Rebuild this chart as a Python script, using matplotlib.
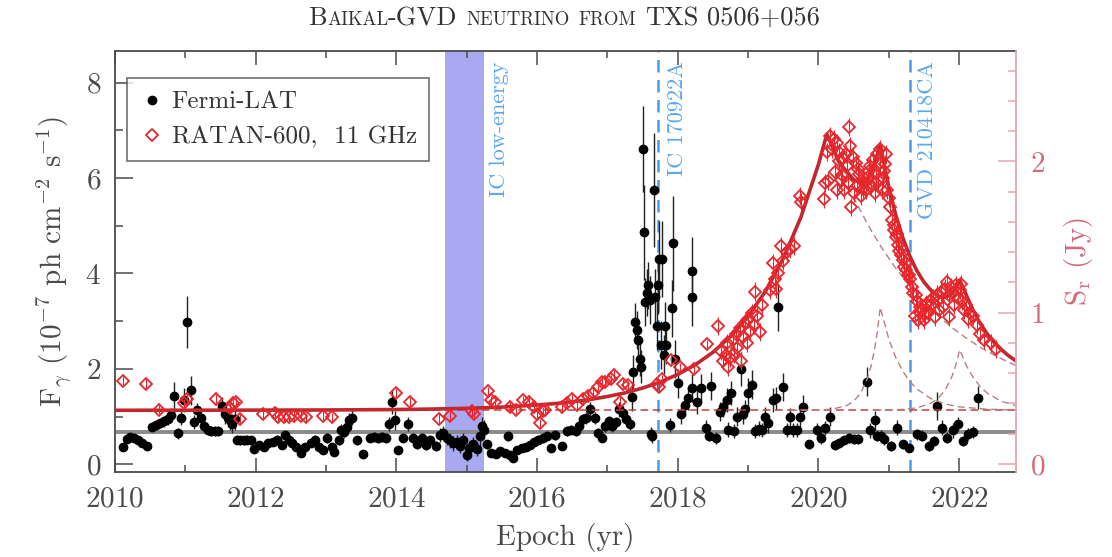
import matplotlib
matplotlib.use("Agg")
import matplotlib.pyplot as plt
from matplotlib.ticker import MultipleLocator
from matplotlib.lines import Line2D

plt.rcParams['font.family'] = 'serif'
plt.rcParams['font.serif'] = ['cmr10', 'DejaVu Serif']
plt.rcParams['mathtext.fontset'] = 'cm'
plt.rcParams['axes.formatter.use_mathtext'] = True

# Fermi-LAT gamma-ray flux (1e-7 ph cm^-2 s^-1)
fermi_t = [2010.11, 2010.17, 2010.22, 2010.27, 2010.33, 2010.39, 2010.45, 2010.52, 2010.58, 2010.64,
           2010.70, 2010.76, 2010.80, 2010.84, 2010.89, 2010.94, 2010.98, 2011.03, 2011.08, 2011.12,
           2011.17, 2011.22, 2011.27, 2011.32, 2011.37, 2011.42, 2011.47, 2011.52, 2011.56, 2011.60,
           2011.64, 2011.67, 2011.70, 2011.73, 2011.78, 2011.83, 2011.88, 2011.93, 2011.98, 2012.05,
           2012.12, 2012.18, 2012.24, 2012.30, 2012.37, 2012.42, 2012.47, 2012.52, 2012.57, 2012.64,
           2012.70, 2012.78, 2012.84, 2012.90, 2012.96, 2013.02, 2013.08, 2013.12, 2013.18, 2013.22,
           2013.26, 2013.30, 2013.33, 2013.37, 2013.44, 2013.53, 2013.62, 2013.68, 2013.74, 2013.80,
           2013.86, 2013.90, 2013.94, 2013.98, 2014.03, 2014.10, 2014.17, 2014.24, 2014.30, 2014.36,
           2014.42, 2014.48, 2014.56, 2014.62, 2014.67, 2014.72, 2014.76, 2014.81, 2014.86, 2014.90,
           2014.95, 2015.00, 2015.04, 2015.09, 2015.14, 2015.19, 2015.22, 2015.25, 2015.29, 2015.35,
           2015.42, 2015.48, 2015.55, 2015.59, 2015.62, 2015.66, 2015.72, 2015.78, 2015.84, 2015.90,
           2015.96, 2016.02, 2016.08, 2016.14, 2016.20, 2016.26, 2016.35, 2016.42, 2016.49, 2016.55,
           2016.60, 2016.65, 2016.70, 2016.75, 2016.82, 2016.87, 2016.92, 2016.97, 2017.02, 2017.07,
           2017.12, 2017.17, 2017.22, 2017.27, 2017.32, 2017.35, 2017.37, 2017.40, 2017.42, 2017.44,
           2017.46, 2017.48, 2017.51, 2017.52, 2017.54, 2017.56, 2017.58, 2017.60, 2017.62, 2017.64,
           2017.66, 2017.68, 2017.70, 2017.72, 2017.74, 2017.76, 2017.78, 2017.80, 2017.82, 2017.84,
           2017.89, 2017.92, 2017.93, 2017.96, 2018.00, 2018.05, 2018.10, 2018.15, 2018.20, 2018.21,
           2018.21, 2018.27, 2018.33, 2018.40, 2018.45, 2018.47, 2018.55, 2018.60, 2018.65, 2018.70,
           2018.72, 2018.76, 2018.80, 2018.85, 2018.90, 2018.93, 2018.96, 2019.00, 2019.05, 2019.10,
           2019.15, 2019.20, 2019.24, 2019.29, 2019.36, 2019.40, 2019.43, 2019.50, 2019.56, 2019.60,
           2019.64, 2019.70, 2019.74, 2019.78, 2019.86, 2019.98, 2020.04, 2020.10, 2020.16, 2020.23,
           2020.30, 2020.37, 2020.43, 2020.50, 2020.56, 2020.69, 2020.73, 2020.80, 2020.84, 2020.89,
           2020.94, 2021.03, 2021.12, 2021.20, 2021.29, 2021.40, 2021.48, 2021.57, 2021.64, 2021.69,
           2021.76, 2021.83, 2021.92, 2021.99, 2022.06, 2022.13, 2022.20, 2022.27]
fermi_f = [0.37, 0.54, 0.58, 0.55, 0.50, 0.44, 0.38, 0.79, 0.82, 0.86,
           0.90, 0.94, 1.03, 1.43, 0.65, 0.97, 1.34, 2.98, 1.55, 0.89,
           1.13, 0.97, 0.80, 0.71, 0.70, 0.70, 0.70, 1.22, 1.05, 0.98,
           0.92, 0.85, 0.96, 0.52, 0.50, 0.50, 0.52, 0.50, 0.33, 0.40,
           0.37, 0.44, 0.47, 0.52, 0.40, 0.61, 0.52, 0.45, 0.37, 0.24,
           0.37, 0.44, 0.51, 0.37, 0.30, 0.55, 0.36, 0.26, 0.51, 0.72,
           0.68, 0.78, 0.93, 0.98, 0.50, 0.21, 0.56, 0.58, 0.55, 0.57,
           0.55, 0.85, 1.30, 0.92, 0.30, 0.56, 0.85, 0.56, 0.42, 0.55,
           0.40, 0.52, 0.38, 0.62, 0.65, 0.55, 0.50, 0.44, 0.47, 0.38,
           0.50, 0.20, 0.34, 0.42, 0.32, 0.59, 0.80, 0.73, 0.42, 0.23,
           0.21, 0.27, 0.23, 0.59, 0.20, 0.13, 0.30, 0.35, 0.37, 0.40,
           0.46, 0.52, 0.55, 0.60, 0.35, 0.62, 0.38, 0.70, 0.73, 0.70,
           0.80, 0.94, 0.97, 1.15, 0.97, 0.66, 0.56, 0.80, 0.90, 0.80,
           0.88, 1.15, 1.08, 0.95, 0.85, 1.42, 1.94, 2.99, 2.82, 2.60,
           2.20, 2.05, 6.60, 4.86, 3.40, 3.60, 3.75, 3.45, 0.63, 0.60,
           5.75, 3.50, 2.90, 3.75, 4.30, 2.50, 4.30, 2.30, 2.90, 2.50,
           0.83, 3.27, 4.63, 2.20, 1.70, 1.05, 1.25, 1.38, 1.60, 4.06,
           3.50, 1.30, 1.60, 0.77, 0.60, 1.64, 0.55, 1.10, 1.20, 1.35,
           0.73, 1.50, 0.70, 1.00, 2.00, 1.05, 1.15, 1.50, 1.67, 0.70,
           0.75, 0.72, 1.00, 0.86, 1.35, 1.38, 3.30, 1.62, 0.72, 0.99,
           0.72, 0.72, 0.99, 1.20, 0.42, 0.71, 0.55, 0.76, 1.00, 0.41,
           0.45, 0.50, 0.55, 0.53, 0.53, 1.73, 0.71, 0.92, 0.60, 0.60,
           0.53, 0.39, 0.77, 0.42, 0.35, 0.63, 0.60, 0.39, 0.49, 1.22,
           0.77, 0.56, 0.71, 0.85, 0.49, 0.64, 0.68, 1.40]
fermi_e = [0.08, 0.08, 0.08, 0.08, 0.08, 0.08, 0.08, 0.10, 0.10, 0.10,
           0.12, 0.12, 0.15, 0.30, 0.12, 0.15, 0.25, 0.55, 0.30, 0.15,
           0.15, 0.12, 0.10, 0.10, 0.10, 0.10, 0.10, 0.20, 0.20, 0.20,
           0.20, 0.20, 0.25, 0.10, 0.10, 0.10, 0.10, 0.10, 0.08, 0.08,
           0.08, 0.08, 0.08, 0.10, 0.08, 0.10, 0.10, 0.08, 0.08, 0.08,
           0.08, 0.08, 0.10, 0.08, 0.08, 0.10, 0.08, 0.08, 0.10, 0.12,
           0.12, 0.12, 0.15, 0.15, 0.10, 0.08, 0.10, 0.10, 0.10, 0.10,
           0.10, 0.15, 0.25, 0.20, 0.08, 0.10, 0.15, 0.10, 0.10, 0.10,
           0.10, 0.10, 0.10, 0.15, 0.15, 0.15, 0.15, 0.15, 0.15, 0.15,
           0.15, 0.12, 0.15, 0.15, 0.15, 0.20, 0.20, 0.20, 0.10, 0.08,
           0.08, 0.08, 0.08, 0.10, 0.08, 0.08, 0.08, 0.08, 0.08, 0.08,
           0.10, 0.10, 0.10, 0.10, 0.08, 0.10, 0.08, 0.10, 0.10, 0.10,
           0.12, 0.12, 0.12, 0.15, 0.12, 0.10, 0.10, 0.12, 0.12, 0.12,
           0.12, 0.15, 0.15, 0.12, 0.12, 0.30, 0.35, 0.40, 0.40, 0.40,
           0.35, 0.35, 0.90, 1.00, 0.50, 0.50, 0.50, 0.50, 0.15, 0.15,
           1.20, 0.60, 0.50, 0.60, 0.80, 0.50, 0.80, 0.40, 0.50, 0.40,
           0.15, 0.60, 1.00, 0.40, 0.30, 0.20, 0.20, 0.25, 0.30, 0.70,
           0.60, 0.25, 0.30, 0.15, 0.12, 0.30, 0.12, 0.20, 0.20, 0.25,
           0.15, 0.25, 0.15, 0.20, 0.35, 0.20, 0.20, 0.30, 0.30, 0.15,
           0.15, 0.15, 0.20, 0.20, 0.25, 0.25, 0.50, 0.30, 0.15, 0.20,
           0.15, 0.15, 0.20, 0.25, 0.10, 0.15, 0.12, 0.15, 0.20, 0.10,
           0.10, 0.10, 0.10, 0.10, 0.10, 0.30, 0.15, 0.20, 0.12, 0.12,
           0.12, 0.10, 0.15, 0.10, 0.10, 0.12, 0.12, 0.10, 0.10, 0.30,
           0.15, 0.12, 0.15, 0.15, 0.10, 0.12, 0.12, 0.25]

# RATAN-600 11 GHz flux density (Jy)
ratan_t = [2010.11, 2010.44, 2010.63, 2010.98, 2011.03, 2011.43, 2011.63, 2011.68, 2011.72, 2011.78,
           2012.10, 2012.27, 2012.32, 2012.40, 2012.47, 2012.55, 2012.65, 2012.72, 2012.96, 2013.08,
           2014.00, 2014.20, 2014.60, 2014.76, 2015.07, 2015.10, 2015.30, 2015.35, 2015.40, 2015.62,
           2015.70, 2015.80, 2015.88, 2015.95, 2016.00, 2016.04, 2016.08, 2016.12, 2016.35, 2016.42,
           2016.50, 2016.57, 2016.65, 2016.72, 2016.80, 2016.87, 2016.92, 2016.97, 2017.05, 2017.09,
           2017.18, 2017.22, 2017.30, 2017.70, 2017.73, 2017.77, 2017.90, 2018.03, 2018.23, 2018.42,
           2018.58, 2018.62, 2018.65, 2018.68, 2018.70, 2018.72, 2018.75, 2018.78, 2018.80, 2018.83,
           2018.85, 2018.88, 2018.90, 2018.93, 2018.96, 2018.98, 2019.00, 2019.03, 2019.05, 2019.08,
           2019.10, 2019.13, 2019.17, 2019.20, 2019.31, 2019.36, 2019.38, 2019.40, 2019.43, 2019.47,
           2019.50, 2019.55, 2019.60, 2019.65, 2019.74, 2019.76, 2020.08, 2020.10, 2020.12, 2020.14,
           2020.17, 2020.22, 2020.26, 2020.27, 2020.30, 2020.32, 2020.35, 2020.37, 2020.40, 2020.43,
           2020.45, 2020.47, 2020.49, 2020.51, 2020.53, 2020.55, 2020.58, 2020.60, 2020.62, 2020.65,
           2020.68, 2020.72, 2020.75, 2020.78, 2020.80, 2020.83, 2020.85, 2020.88, 2020.90, 2020.93,
           2020.96, 2020.98, 2021.02, 2021.05, 2021.08, 2021.10, 2021.13, 2021.15, 2021.18, 2021.20,
           2021.22, 2021.25, 2021.27, 2021.30, 2021.33, 2021.35, 2021.37, 2021.40, 2021.42, 2021.45,
           2021.48, 2021.50, 2021.53, 2021.56, 2021.60, 2021.63, 2021.66, 2021.70, 2021.74, 2021.77,
           2021.80, 2021.83, 2021.86, 2021.89, 2021.92, 2021.95, 2021.98, 2022.01, 2022.04, 2022.07,
           2022.10, 2022.13, 2022.16, 2022.20, 2022.25, 2022.30, 2022.36, 2022.45, 2022.52,
           2020.20, 2020.24, 2020.29, 2020.34, 2020.39, 2020.42, 2020.56, 2020.63, 2020.70, 2020.74,
           2020.77, 2020.82, 2020.87, 2020.92, 2020.95, 2021.00, 2021.07, 2021.12, 2021.17, 2021.24,
           2021.29, 2021.39, 2021.44, 2021.52, 2021.58, 2021.68, 2021.72, 2021.85, 2021.93, 2022.03]
ratan_s = [0.55, 0.53, 0.36, 0.40, 0.43, 0.43, 0.37, 0.40, 0.41, 0.30,
           0.33, 0.34, 0.31, 0.31, 0.31, 0.32, 0.32, 0.31, 0.32, 0.31,
           0.47, 0.41, 0.30, 0.32, 0.35, 0.33, 0.48, 0.42, 0.41, 0.38,
           0.36, 0.42, 0.41, 0.38, 0.33, 0.27, 0.35, 0.36, 0.38, 0.40,
           0.43, 0.39, 0.43, 0.45, 0.47, 0.51, 0.54, 0.54, 0.56, 0.59,
           0.41, 0.53, 0.52, 0.53, 0.51, 0.56, 0.69, 0.64, 0.63, 0.79,
           0.91, 0.75, 0.68, 0.72, 0.80, 0.64, 0.70, 0.82, 0.73, 0.86,
           0.77, 0.90, 0.68, 0.84, 0.93, 0.80, 0.96, 0.88, 1.00, 0.92,
           1.14, 0.98, 0.87, 1.05, 1.15, 1.33, 1.22, 1.16, 1.26, 1.44,
           1.34, 1.40, 1.42, 1.44, 1.77, 1.73, 1.75, 1.86, 2.06, 1.87,
           2.17, 2.15, 2.12, 1.81, 2.06, 1.88, 2.02, 1.81, 1.97, 2.23,
           2.10, 1.70, 2.03, 1.79, 1.99, 1.84, 1.92, 1.77, 1.88, 1.86,
           1.81, 1.94, 1.83, 2.01, 1.79, 2.05, 1.88, 1.99, 1.81, 1.94,
           2.05, 1.81, 1.70, 1.61, 1.55, 1.50, 1.45, 1.41, 1.38, 1.35,
           1.30, 1.28, 1.25, 1.22, 1.17, 1.13, 0.98, 1.08, 0.95, 1.04,
           1.02, 0.95, 1.06, 1.00, 1.05, 1.10, 0.97, 1.08, 1.14, 1.04,
           1.16, 1.20, 0.97, 1.17, 1.13, 1.18, 1.10, 1.15, 1.08, 1.02,
           1.05, 0.96, 1.00, 0.98, 0.92, 0.86, 0.82, 0.80, 0.76,
           2.08, 1.93, 2.00, 1.91, 2.05, 1.86, 1.95, 1.82, 1.90, 1.97,
           1.87, 1.92, 2.08, 1.89, 1.98, 1.76, 1.58, 1.52, 1.43, 1.33,
           1.25, 1.12, 1.00, 0.99, 1.08, 1.12, 1.02, 1.12, 1.05, 1.19]
ratan_e = [0.03] * 60 + [0.06] * 149

# model light curve (Jy): total, main flare, two small flares
model_t = [2010.0, 2012.0, 2013.0, 2014.0, 2014.5, 2015.0, 2015.5, 2016.0, 2016.25, 2016.5,
           2016.75, 2017.0, 2017.25, 2017.5, 2017.75, 2018.0, 2018.25, 2018.5, 2018.75, 2019.0,
           2019.25, 2019.5, 2019.75, 2020.0, 2020.12, 2020.3, 2020.5, 2020.6, 2020.7, 2020.8,
           2020.88, 2021.0, 2021.1, 2021.2, 2021.3, 2021.4, 2021.5, 2021.6, 2021.7, 2021.8,
           2021.9, 2022.01, 2022.1, 2022.2, 2022.3, 2022.4, 2022.5, 2022.6, 2022.7, 2022.82]
model_s = [0.355, 0.356, 0.357, 0.360, 0.363, 0.368, 0.376, 0.390, 0.399, 0.411,
           0.426, 0.446, 0.470, 0.502, 0.541, 0.592, 0.656, 0.738, 0.843, 0.975,
           1.143, 1.358, 1.630, 1.979, 2.180, 1.990, 1.880, 1.860, 1.890, 1.985,
           2.110, 1.832, 1.646, 1.496, 1.374, 1.278, 1.203, 1.148, 1.110, 1.100,
           1.125, 1.215, 1.120, 1.015, 0.930, 0.860, 0.803, 0.757, 0.717, 0.678]
main_t = [2020.12, 2020.2, 2020.3, 2020.5, 2020.7, 2020.9, 2021.1, 2021.3, 2021.5, 2021.7,
          2021.9, 2022.1, 2022.3, 2022.5, 2022.7, 2022.82]
main_s = [2.175, 2.079, 1.967, 1.763, 1.585, 1.429, 1.294, 1.175, 1.072, 0.981,
          0.901, 0.833, 0.772, 0.720, 0.673, 0.649]
flare2_t = [2019.6, 2020.0, 2020.2, 2020.4, 2020.5, 2020.6, 2020.7, 2020.75, 2020.8, 2020.84,
            2020.88, 2021.0, 2021.1, 2021.2, 2021.3, 2021.4, 2021.6, 2021.8, 2022.0, 2022.4, 2022.82]
flare2_s = [0.355, 0.357, 0.363, 0.386, 0.414, 0.467, 0.568, 0.649, 0.761, 0.880,
            1.035, 0.828, 0.704, 0.613, 0.545, 0.496, 0.432, 0.397, 0.378, 0.362, 0.357]
flare3_t = [2020.8, 2021.2, 2021.4, 2021.6, 2021.7, 2021.8, 2021.9, 2021.96, 2022.01, 2022.1,
            2022.2, 2022.3, 2022.4, 2022.6, 2022.82]
flare3_s = [0.355, 0.361, 0.371, 0.401, 0.433, 0.487, 0.579, 0.663, 0.755, 0.654,
            0.572, 0.512, 0.469, 0.415, 0.384]
radio_base = 0.355
gamma_base = 0.67

neutrinos = [2017.72, 2021.30]
nu_labels = ['IC 170922A', 'GVD 210418CA']
nu_label_x = [2018.0, 2021.55]
low_energy = (2014.69, 2015.25)

gray = '#4a4a4a'
pink = '#e3a7b0'
blue = '#4a9be8'

fig = plt.figure(figsize=(11.12, 5.57), dpi=100)
ax = fig.add_axes([0.1034, 0.1526, 0.8103, 0.7558])
ax2 = ax.twinx()

ax.axvspan(*low_energy, color='#a9a9f2', lw=0, zorder=0)
for t in neutrinos:
    ax.axvline(t, color=blue, ls=(0, (5, 3)), lw=1.8, zorder=1)
ax.text(2015.47, 0.975, 'IC low-energy', transform=ax.get_xaxis_transform(), rotation=90,
        ha='center', va='top', color='#5aa8f0', fontsize=16)
for x, s in zip(nu_label_x, nu_labels):
    ax.text(x, 0.975, s, transform=ax.get_xaxis_transform(), rotation=90,
            ha='center', va='top', color='#5aa8f0', fontsize=16)

ax.axhline(gamma_base, color='#8a8a8a', lw=2.8, zorder=1)
ax.errorbar(fermi_t, fermi_f, yerr=fermi_e, fmt='o', color='black', ms=6,
            ecolor='#222222', elinewidth=1, capsize=0, zorder=2)

ax2.axhline(radio_base, color='#c04040', ls=(0, (5, 3)), lw=1.1, zorder=1)
for tt, ss in [(main_t, main_s), (flare2_t, flare2_s), (flare3_t, flare3_s)]:
    ax2.plot(tt, ss, color='#b88080', ls=(0, (5, 3)), lw=1.0, zorder=1)
ax2.errorbar(ratan_t, ratan_s, yerr=ratan_e, fmt='D', mfc='none', mec='#e8262c', ms=6.3, mew=1.3,
             ecolor='#e8262c', elinewidth=0.8, capsize=0, zorder=3)
ax2.plot(model_t, model_s, color='#c0282d', lw=2.6, zorder=2)

ax.set_xlim(2010, 2022.81)
ax.set_ylim(-0.16, 8.66)
ax2.set_ylim(-0.053, 2.73)

ax.xaxis.set_major_locator(MultipleLocator(2))
ax.xaxis.set_minor_locator(MultipleLocator(1))
ax.yaxis.set_major_locator(MultipleLocator(2))
ax.yaxis.set_minor_locator(MultipleLocator(1))
ax2.yaxis.set_major_locator(MultipleLocator(1))
ax2.yaxis.set_minor_locator(MultipleLocator(0.2))

ax.tick_params(which='both', direction='in', top=True, right=False, colors=gray, labelsize=21, width=1.1)
ax.tick_params(axis='x', which='major', length=10, pad=10)
ax.tick_params(axis='x', which='minor', length=5)
ax.tick_params(axis='y', which='major', length=13, pad=10)
ax.tick_params(axis='y', which='minor', length=6)
ax2.tick_params(which='both', direction='in', colors=pink, labelcolor='#d36a7a', labelsize=21, width=1.1)
ax2.tick_params(which='major', length=13, pad=10)
ax2.tick_params(which='minor', length=6)

for side in ['left', 'top', 'bottom']:
    ax.spines[side].set_color(gray)
    ax.spines[side].set_linewidth(1.3)
    ax2.spines[side].set_visible(False)
ax.spines['right'].set_visible(False)
ax2.spines['right'].set_color(pink)
ax2.spines['right'].set_linewidth(1.3)

ax.set_xlabel('Epoch (yr)', fontsize=21, color=gray, labelpad=8)
ax.set_ylabel(r'F$_\gamma$ (10$^{-7}$ ph cm$^{-2}$ s$^{-1}$)', fontsize=21, color=gray, labelpad=8)
ax2.set_ylabel(r'S$_\mathrm{r}$ (Jy)', fontsize=21, color='#d36a7a', labelpad=12)

handles = [Line2D([], [], marker='o', ls='none', color='black', ms=6),
           Line2D([], [], marker='D', ls='none', mfc='none', mec='#e8262c', ms=6.3, mew=1.3)]
leg = ax2.legend(handles, ['Fermi-LAT', 'RATAN-600,  11 GHz'], loc='upper left',
                 bbox_to_anchor=(0.013, 0.935), borderaxespad=0, fontsize=18, frameon=True,
                 fancybox=False, edgecolor=gray, handletextpad=0.3, handlelength=1.0,
                 borderpad=0.5, labelspacing=0.5)
leg.get_frame().set_linewidth(1.2)
for txt in leg.get_texts():
    txt.set_color('#333333')

# small-caps title built from pieces
parts = [('B', 1), ('AIKAL', 0), ('-GVD', 1), (' ', 1), ('NEUTRINO', 0), (' ', 1), ('FROM', 0),
         (' ', 1), ('TXS', 1), (' ', 1), ('0506+056', 1)]
big, small = 19, 13.5
fig.canvas.draw()
renderer = fig.canvas.get_renderer()
W = fig.get_figwidth() * fig.dpi
pieces = []
for s, b in parts:
    fs = big if b else small
    if s == ' ':
        pieces.append((None, fs * 0.33 * fig.dpi / 72))
        continue
    t = fig.text(0, 0.955, s, fontsize=fs, color='#333333', ha='left', va='baseline')
    pieces.append((t, t.get_window_extent(renderer).width))
total = sum(w for _, w in pieces)
x = 0.5 * W - total / 2 + 8
for t, w in pieces:
    if t is not None:
        t.set_x(x / W)
    x += w

fig.savefig('out.png', dpi=100)
